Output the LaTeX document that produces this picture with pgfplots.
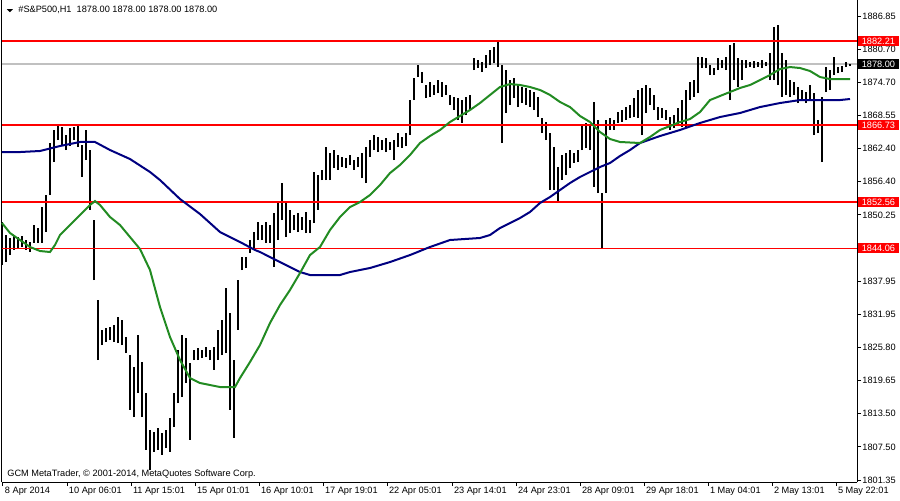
\documentclass[border=0pt]{standalone}
\usepackage{pgfplots}
\pgfplotsset{compat=1.18}
\usepackage{pgfplotstable}
\usepackage{fontspec}
\setmainfont{Liberation Sans}

\definecolor{slowma}{RGB}{0,0,128}
\definecolor{fastma}{RGB}{34,139,34}
\definecolor{bidline}{RGB}{192,192,192}
\definecolor{levelred}{RGB}{255,0,0}

\newcommand{\mtfont}{\fontsize{4.6}{5.5}\selectfont}

% H1 bars: x = chart position, lo/hi = bar range
\pgfplotstableread{
x lo hi
2 1840.97 1848.89
6 1841.52 1846.50
10 1842.81 1845.95
14 1843.74 1846.31
18 1843.92 1846.13
22 1844.29 1846.31
26 1843.74 1845.58
30 1843.37 1845.21
34 1845.03 1848.34
38 1845.03 1847.79
42 1845.03 1851.66
46 1847.05 1853.87
50 1853.87 1863.45
54 1859.95 1865.85
58 1864.00 1866.77
62 1863.08 1866.40
66 1862.16 1864.92
70 1862.90 1866.21
74 1864.00 1866.40
78 1862.71 1866.58
82 1857.19 1863.08
86 1860.32 1865.85
90 1851.11 1862.16
94 1838.21 1849.26
98 1823.47 1834.52
102 1826.23 1829.00
106 1826.78 1829.36
110 1827.15 1829.55
114 1826.78 1829.92
118 1826.60 1831.39
122 1826.23 1830.84
126 1824.76 1827.71
130 1814.26 1824.39
134 1812.96 1822.18
138 1817.39 1828.07
142 1812.96 1823.10
146 1806.89 1817.39
150 1803.20 1810.57
154 1806.52 1810.20
158 1806.89 1810.94
162 1805.97 1810.02
166 1807.25 1810.57
170 1806.52 1812.78
174 1811.12 1817.39
178 1815.54 1825.31
182 1816.65 1828.07
186 1819.23 1827.52
190 1808.73 1822.91
194 1823.47 1825.31
198 1823.47 1825.68
202 1823.83 1825.31
206 1824.02 1825.86
210 1823.47 1825.31
214 1821.63 1825.86
218 1823.47 1829.00
222 1824.39 1830.84
226 1824.76 1836.73
230 1814.26 1832.13
234 1809.10 1823.47
238 1829.00 1838.21
242 1840.05 1842.45
246 1840.42 1842.45
250 1843.18 1845.58
254 1844.10 1847.05
258 1845.58 1848.89
262 1845.58 1848.34
266 1845.03 1848.89
270 1845.03 1848.34
274 1840.60 1850.55
278 1845.58 1852.40
282 1849.26 1856.08
286 1846.13 1852.40
290 1846.87 1851.11
294 1847.42 1850.18
298 1847.05 1850.55
302 1847.42 1849.82
306 1846.87 1850.74
310 1846.87 1849.26
314 1848.71 1858.11
318 1851.11 1857.55
322 1856.63 1858.48
326 1856.63 1862.71
330 1856.63 1861.61
334 1858.84 1862.16
338 1858.48 1861.24
342 1859.03 1860.87
346 1858.84 1860.69
350 1859.40 1861.24
354 1858.48 1860.32
358 1859.03 1860.87
362 1857.00 1861.61
366 1856.08 1862.71
370 1860.87 1864.00
374 1862.16 1864.92
378 1861.79 1864.56
382 1862.16 1864.00
386 1861.79 1864.37
390 1862.16 1863.64
394 1860.32 1864.00
398 1862.71 1865.29
402 1862.53 1864.56
406 1862.90 1865.29
410 1864.92 1871.37
414 1871.37 1875.43
418 1875.61 1877.82
422 1874.51 1876.53
426 1871.74 1874.14
430 1871.93 1874.69
434 1872.30 1874.14
438 1872.66 1875.06
442 1871.93 1874.69
446 1872.30 1874.14
450 1870.45 1872.30
454 1869.53 1871.93
458 1867.69 1871.74
462 1867.14 1871.37
466 1868.61 1871.93
470 1869.53 1872.30
474 1876.90 1879.11
478 1877.27 1878.74
482 1876.53 1878.38
486 1877.27 1879.67
490 1877.82 1880.59
494 1878.19 1881.14
498 1877.45 1882.43
502 1863.45 1877.82
506 1868.98 1876.90
510 1870.45 1875.06
514 1871.74 1875.43
518 1870.08 1874.14
522 1870.82 1873.77
526 1870.45 1873.59
530 1870.08 1873.22
534 1869.53 1872.85
538 1868.24 1871.93
542 1865.29 1868.05
546 1864.00 1867.32
550 1854.79 1865.29
554 1854.79 1862.71
558 1852.58 1859.03
562 1856.63 1861.24
566 1857.55 1861.61
570 1858.84 1862.16
574 1859.77 1861.61
578 1859.95 1862.16
582 1862.16 1866.77
586 1862.53 1867.14
590 1862.16 1866.77
594 1855.34 1871.01
598 1854.24 1867.69
602 1844.10 1854.24
606 1854.24 1867.69
610 1865.85 1868.05
614 1865.85 1867.69
618 1867.14 1869.16
622 1867.32 1869.53
626 1867.69 1870.08
630 1868.05 1870.45
634 1868.24 1871.74
638 1868.05 1873.22
642 1864.92 1873.59
646 1868.98 1874.14
650 1870.45 1873.59
654 1869.53 1872.30
658 1867.69 1870.08
662 1868.05 1869.90
666 1867.69 1869.53
670 1865.85 1868.24
674 1866.21 1868.61
678 1866.77 1869.90
682 1866.40 1871.37
686 1866.40 1873.22
690 1871.37 1874.69
694 1871.93 1875.06
698 1872.66 1879.30
702 1877.27 1879.30
706 1877.27 1879.11
710 1875.98 1877.82
714 1875.98 1877.27
718 1876.90 1879.11
722 1877.27 1878.74
726 1876.90 1879.30
730 1871.37 1881.51
734 1875.06 1881.88
738 1873.77 1879.11
742 1875.06 1878.74
746 1877.27 1878.74
750 1877.45 1878.38
754 1877.27 1878.56
758 1877.45 1878.38
762 1877.27 1878.74
766 1877.64 1878.38
770 1875.06 1880.03
774 1875.06 1884.83
778 1874.14 1885.19
782 1871.93 1880.03
786 1872.30 1878.74
790 1871.93 1875.06
794 1872.30 1874.69
798 1870.82 1873.77
802 1871.37 1873.22
806 1870.82 1872.85
810 1871.37 1874.14
814 1864.92 1872.66
818 1865.29 1867.69
822 1859.95 1871.93
826 1872.85 1877.45
830 1873.22 1876.90
834 1875.98 1879.30
838 1876.35 1877.45
842 1876.53 1877.64
846 1877.45 1878.38
850 1877.64 1878.01
}\bars

% slow moving average (navy)
\pgfplotstableread{
x p
2 1861.79
20 1861.79
40 1861.98
60 1862.90
80 1863.64
95 1863.64
110 1862.16
130 1860.50
150 1858.11
160 1856.63
180 1853.13
200 1850.37
220 1847.05
240 1845.21
255 1843.74
260 1843.37
280 1841.52
300 1839.68
310 1839.13
340 1839.13
350 1839.68
370 1840.42
390 1841.52
410 1842.81
430 1844.29
450 1845.58
480 1845.95
490 1846.50
500 1847.79
510 1848.71
520 1849.63
530 1850.74
540 1852.40
550 1853.50
560 1854.79
570 1856.08
580 1857.19
590 1858.11
600 1859.03
610 1859.77
620 1861.06
630 1862.16
640 1863.45
660 1864.74
680 1865.85
700 1867.14
720 1868.24
740 1868.98
760 1870.08
780 1870.82
800 1871.37
820 1871.37
840 1871.37
850 1871.56
}\slow

% fast moving average (green)
\pgfplotstableread{
x p
2 1848.71
10 1846.87
20 1845.58
30 1844.29
40 1843.55
50 1843.37
55 1844.66
60 1846.50
70 1848.34
80 1850.18
90 1852.03
95 1852.76
100 1852.03
110 1849.82
120 1848.34
130 1846.13
140 1843.92
150 1840.05
160 1833.23
170 1827.71
180 1823.47
190 1820.15
200 1819.23
210 1818.86
220 1818.49
235 1818.49
240 1820.15
250 1823.10
260 1826.23
270 1830.29
280 1833.60
290 1836.37
300 1839.50
310 1842.81
320 1844.29
330 1847.42
340 1849.82
350 1851.66
360 1852.58
370 1853.87
380 1855.71
390 1857.92
400 1859.40
410 1861.24
420 1863.45
430 1864.74
440 1865.85
450 1867.32
460 1868.43
470 1869.53
480 1870.82
490 1872.30
500 1873.77
510 1874.32
520 1874.14
530 1873.77
540 1873.22
550 1872.30
560 1871.01
570 1870.08
580 1868.43
590 1867.32
600 1865.48
610 1864.19
620 1863.64
640 1863.45
650 1864.56
660 1865.85
670 1866.58
680 1867.32
690 1867.87
700 1869.16
710 1871.37
720 1872.11
730 1872.85
740 1873.59
750 1874.14
760 1875.06
770 1875.98
780 1877.08
790 1877.45
800 1877.27
810 1876.72
820 1875.61
830 1875.24
850 1875.24
}\fast

\begin{document}
\begin{tikzpicture}[pricetag/.style={text=white, font=\mtfont, anchor=west, inner sep=0pt,
        minimum width=20.5pt, minimum height=5pt}]
\path[use as bounding box] (-1pt,-9pt) rectangle (449pt,241pt);
\begin{axis}[
  at={(0,0)}, anchor=south west,
  width=427.5pt, height=241pt, scale only axis,
  xmin=2, xmax=857, ymin=1800.99, ymax=1889.80,
  axis x line*=bottom, axis y line*=right,
  axis line style={-, black, line width=0.5pt},
  tick align=outside, major tick length=2pt,
  tick style={black, line width=0.5pt},
  xtick={3,67,131,195,259,323,387,452,516,580,644,708,772,836},
  xticklabels={8 Apr 2014, 10 Apr 06:01, 11 Apr 15:01, 15 Apr 01:01, 16 Apr 10:01, 17 Apr 19:01, 22 Apr 05:01, 23 Apr 14:01, 24 Apr 23:01, 28 Apr 09:01, 29 Apr 18:01, 1 May 04:01, 2 May 13:01, 5 May 22:01},
  ytick={1801.35,1807.457,1813.564,1819.671,1825.779,1831.886,1837.993,1844.100,1850.207,1856.314,1862.421,1868.529,1874.636,1880.743,1886.850},
  yticklabels={1801.35,1807.50,1813.50,1819.65,1825.80,1831.95,1837.95,,1850.25,1856.40,1862.40,1868.55,1874.70,1880.70,1886.85},
  ticklabel style={font=\mtfont},
  xticklabel style={anchor=north west, inner sep=0pt, xshift=0.8pt, yshift=-0.5pt},
  yticklabel style={anchor=west, inner sep=0pt, xshift=0.5pt},
  clip=false,
]
\draw[black, line width=0.5pt] (rel axis cs:0,0) -- (rel axis cs:0,1);

% bid line
\addplot[bidline, line width=0.6pt, mark=none] coordinates {(2,1878.00) (857,1878.00)};

% bars
\addplot[draw=none, mark=none,
  error bars/.cd, y dir=plus, y explicit, error mark=none,
  error bar style={draw=black, solid, line width=0.75pt}]
  table[x=x, y=lo, y error plus expr=\thisrow{hi}-\thisrow{lo}] {\bars};

% support / resistance levels
\addplot[levelred, line width=0.75pt, mark=none] coordinates {(2,1882.21) (857,1882.21)};
\addplot[levelred, line width=0.75pt, mark=none] coordinates {(2,1866.73) (857,1866.73)};
\addplot[levelred, line width=0.75pt, mark=none] coordinates {(2,1852.56) (857,1852.56)};
\addplot[levelred, line width=0.75pt, mark=none] coordinates {(2,1844.06) (857,1844.06)};

% moving averages
\addplot[slowma, line width=1pt, mark=none] table[x=x, y=p] {\slow};
\addplot[fastma, line width=1pt, mark=none] table[x=x, y=p] {\fast};

% price labels on the scale
\node[pricetag, fill=levelred] at (axis cs:857.5,1882.21) {1882.21};
\node[pricetag, fill=levelred] at (axis cs:857.5,1866.73) {1866.73};
\node[pricetag, fill=levelred] at (axis cs:857.5,1852.56) {1852.56};
\node[pricetag, fill=levelred] at (axis cs:857.5,1844.06) {1844.06};
\node[pricetag, fill=black] at (axis cs:857.5,1878.00) {1878.00};
\end{axis}

\fill[black] (2.4pt,236.4pt) -- (5.4pt,236.4pt) -- (3.9pt,234.9pt) -- cycle;
\node[anchor=west, inner sep=0pt, font=\mtfont] at (8pt,236pt)
  {\#S\&P500,H1\ \ 1878.00 1878.00 1878.00 1878.00};
\node[anchor=west, inner sep=0pt, font=\mtfont] at (2.5pt,4pt)
  {GCM MetaTrader, \textcopyright\ 2001-2014, MetaQuotes Software Corp.};
\end{tikzpicture}
\end{document}
